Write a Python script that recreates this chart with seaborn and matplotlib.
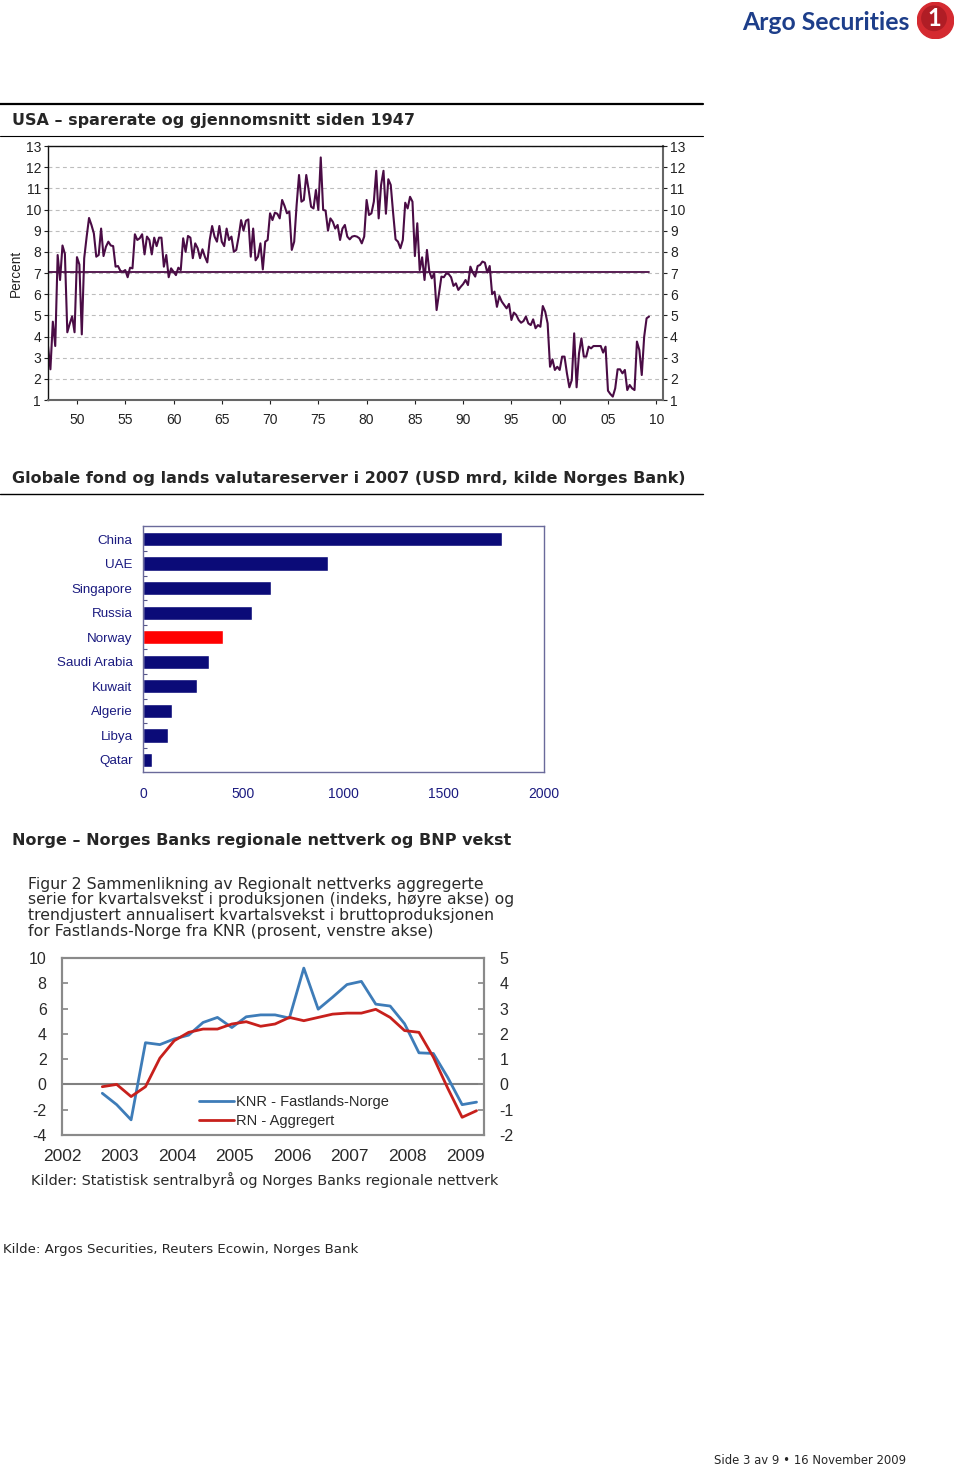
import numpy as np
import pandas as pd
import matplotlib
matplotlib.use("Agg")
import matplotlib.pyplot as plt
import seaborn as sns
from matplotlib.lines import Line2D
from matplotlib.patches import Circle

# ---------------- data ----------------
# USA personal saving rate, quarterly from 1947Q1 (percent)
saving_1947_1962 = [3.55, 2.45, 4.7, 3.55, 7.85, 6.67, 8.3, 7.9, 4.2, 4.6, 4.95, 4.2,
                    7.75, 7.4, 4.1, 7.7, 8.7, 9.6, 9.27, 8.87, 7.77, 7.85, 9.1, 7.8,
                    8.24, 8.48, 8.3, 8.27, 7.3, 7.33, 7.1, 7.06, 7.14, 6.8, 7.25, 7.22,
                    8.83, 8.56, 8.64, 8.83, 7.88, 8.72, 8.56, 7.88, 8.67, 8.27, 8.67, 8.67,
                    7.3, 7.85, 6.8, 7.22, 7.06, 6.9, 7.25, 7.14, 8.64, 8.0, 8.75, 8.67,
                    7.7, 8.4]
saving_1962_1978 = [8.17, 7.7, 8.12, 7.77, 7.5, 8.56, 9.22, 8.72, 8.48, 9.22, 8.48, 8.27,
                    9.1, 8.56, 8.72, 8.0, 8.09, 8.72, 9.5, 9.0, 9.47, 9.53, 7.77, 9.1,
                    7.6, 7.77, 8.4, 7.17, 8.48, 8.56, 9.82, 9.5, 9.85, 9.8, 9.58, 10.45,
                    10.17, 9.82, 9.9, 8.09, 8.48, 10.2, 11.63, 10.37, 10.45, 11.63, 10.92, 10.13,
                    10.05, 10.92, 9.98, 12.46, 9.98, 9.95, 9.0, 9.58, 9.42, 9.1, 9.27, 8.56,
                    9.1, 9.27, 8.72]
saving_1978_1993 = [8.59, 8.72, 8.75, 8.72, 8.64, 8.4, 8.72, 10.45, 9.74, 9.82, 10.37, 11.83,
                    9.58, 11.16, 11.83, 9.8, 11.43, 11.16, 9.82, 8.59, 8.48, 8.17, 8.56, 10.32,
                    10.05, 10.6, 10.37, 7.8, 9.35, 7.14, 7.74, 6.67, 8.09, 7.06, 6.75, 6.98,
                    5.25, 6.04, 6.83, 6.8, 6.98, 6.95, 6.8, 6.39, 6.51, 6.2, 6.35, 6.48,
                    6.67, 6.43, 7.3, 7.02, 6.83, 7.33, 7.38, 7.54, 7.49, 7.02, 7.33, 6.0,
                    6.12, 5.4]
saving_1993_2009 = [5.91, 5.65, 5.49, 5.33, 5.54, 4.78, 5.13, 5.02, 4.78, 4.65, 4.73, 4.94,
                    4.62, 4.54, 4.81, 4.39, 4.54, 4.46, 5.44, 5.17, 4.62, 2.57, 2.92, 2.42,
                    2.57, 2.42, 3.05, 3.05, 2.26, 1.6, 1.94, 4.15, 1.6, 3.2, 3.91, 3.05,
                    3.05, 3.52, 3.44, 3.55, 3.55, 3.55, 3.55, 3.24, 3.52, 1.44, 1.28, 1.16,
                    1.55, 2.45, 2.45, 2.26, 2.42, 1.47, 1.71, 1.55, 1.47, 3.76, 3.36, 2.18,
                    3.99, 4.86, 4.94]
saving_start = 1947.0
saving_mean = 7.05
usa_xticks = [1950, 1955, 1960, 1965, 1970, 1975, 1980, 1985, 1990, 1995, 2000, 2005, 2010]
usa_xlabels = ["50", "55", "60", "65", "70", "75", "80", "85", "90", "95", "00", "05", "10"]
usa_yticks = list(range(1, 14))

# Global funds / FX reserves 2007 (USD bn)
countries = ["China", "UAE", "Singapore", "Russia", "Norway", "Saudi Arabia",
             "Kuwait", "Algerie", "Libya", "Qatar"]
reserves = [1790, 925, 640, 545, 400, 327, 267, 143, 123, 43]
bar_xticks = [0, 500, 1000, 1500, 2000]

# Norges Bank regional network vs GDP growth (quarterly)
nb_start = 2002.7
knr_values = [-0.7, -1.6, -2.8, 3.3, 3.15, 3.6, 3.9, 4.9, 5.3, 4.5, 5.35, 5.5, 5.5, 5.25,
              9.2, 5.95, 6.9, 7.9, 8.15, 6.35, 6.2, 4.8, 2.5, 2.45, 0.55, -1.6, -1.4]
rn_values = [-0.09, 0.0, -0.48, -0.09, 1.04, 1.73, 2.06, 2.19, 2.19, 2.39, 2.48, 2.30, 2.39, 2.65,
             2.52, 2.65, 2.78, 2.82, 2.82, 2.97, 2.65, 2.13, 2.06, 1.08, -0.15, -1.3, -1.04]
nb_years = list(range(2002, 2010))
nb_left_ticks = [-4, -2, 0, 2, 4, 6, 8, 10]
nb_right_ticks = [-2, -1, 0, 1, 2, 3, 4, 5]

# ---------------- setup ----------------
sns.set_theme(style="white")
plt.rcParams["font.family"] = ["Liberation Sans", "DejaVu Sans"]
plt.rcParams["axes.unicode_minus"] = False

W, H = 960, 1467
fig = plt.figure(figsize=(W / 100, H / 100), dpi=100)
fig.patch.set_facecolor("white")


def rect(x0, y0, x1, y1):
    return [x0 / W, 1 - y1 / H, (x1 - x0) / W, (y1 - y0) / H]


def fx(x):
    return x / W


def fy(y):
    return 1 - y / H


def hline(y, x0, x1, lw, color="black"):
    fig.add_artist(Line2D([fx(x0), fx(x1)], [fy(y), fy(y)], transform=fig.transFigure,
                          color=color, lw=lw))


# ---------------- logo ----------------
fig.text(fx(742), fy(22), "Argo Securities", fontsize=17.8, fontweight="bold",
         color="#1D3E8A", family=["Lato", "DejaVu Sans"], va="center", ha="left")
axl = fig.add_axes(rect(917, 2, 954, 39))
axl.set_xlim(0, 1)
axl.set_ylim(0, 1)
axl.add_patch(Circle((0.5, 0.5), 0.49, color="#D42A30"))
axl.add_patch(Circle((0.46, 0.56), 0.33, color="#B01D25"))
axl.text(0.47, 0.55, "1", color="white", fontsize=17, fontweight="bold",
         ha="center", va="center", family=["Lato", "DejaVu Sans"])
axl.axis("off")

# ---------------- chart 1 ----------------
hline(104, 0, 703, 1.6)
hline(136, 0, 703, 0.8)
fig.text(fx(12), fy(120), "USA \u2013 sparerate og gjennomsnitt siden 1947", fontsize=11.55,
         fontweight="bold", family="DejaVu Sans", va="center", ha="left")

saving_rate = saving_1947_1962 + saving_1962_1978 + saving_1978_1993 + saving_1993_2009
df1 = pd.DataFrame({"year": saving_start + 0.25 * np.arange(len(saving_rate)),
                    "rate": saving_rate})
df_mean = pd.DataFrame({"year": [df1["year"].min(), df1["year"].max()],
                        "rate": [saving_mean, saving_mean]})

purple = "#4A0C45"
ax1 = fig.add_axes(rect(48, 146, 663, 400))
sns.lineplot(data=df1, x="year", y="rate", ax=ax1, color=purple, lw=1.5)
sns.lineplot(data=df_mean, x="year", y="rate", ax=ax1, color=purple, lw=1.3)
ax1.set_xlim(1947.0, 2010.7)
ax1.set_ylim(1, 13)
ax1.set_xticks(usa_xticks)
ax1.set_xticklabels(usa_xlabels)
ax1.set_yticks(usa_yticks)
ax1.set_xlabel("")
ax1.set_ylabel("")
ax1.yaxis.grid(True, linestyle=(0, (3.5, 3)), color="#BDBDBD", lw=0.8)
ax1.xaxis.grid(False)
ax1.tick_params(axis="both", labelsize=10, colors="#222222", length=3, width=0.8,
                direction="out")
ax1.tick_params(axis="y", left=True, right=True, labelleft=True, labelright=True, pad=2)
ax1.tick_params(axis="x", bottom=True, pad=6)
for side in ["left", "top"]:
    ax1.spines[side].set_color("#111111")
    ax1.spines[side].set_linewidth(1.0)
for side in ["right", "bottom"]:
    ax1.spines[side].set_color("#666666")
    ax1.spines[side].set_linewidth(1.5)
fig.text(fx(16), fy(273), "Percent", rotation=90, fontsize=9.8, va="center", ha="center",
         color="#222222")

# ---------------- chart 2 ----------------
fig.text(fx(12), fy(479), "Globale fond og lands valutareserver i 2007 (USD mrd, kilde Norges Bank)",
         fontsize=11.55, fontweight="bold", family="DejaVu Sans", va="center", ha="left")
hline(494, 0, 703, 1.0)

navy = "#0B0B78"
label_navy = "#1B1B80"
df2 = pd.DataFrame({"country": countries, "reserve": reserves})
bar_palette = {c: ("#FF0000" if c == "Norway" else navy) for c in countries}
ax2 = fig.add_axes(rect(143, 526, 544, 772))
sns.barplot(data=df2, x="reserve", y="country", hue="country", palette=bar_palette,
            legend=False, ax=ax2, width=0.58, saturation=1, orient="h")
ax2.set_xlim(0, 2000)
ax2.set_ylim(9.49, -0.53)
ax2.set_xticks(bar_xticks)
ax2.set_xlabel("")
ax2.set_ylabel("")
ax2.tick_params(axis="x", length=0, pad=10.5, labelsize=10, labelcolor=label_navy)
ax2.tick_params(axis="y", length=0, pad=7.5, labelsize=9.6, labelcolor=label_navy)
ax2.set_yticks(np.arange(0.5, len(countries) - 1, 1.0), minor=True)
ax2.tick_params(axis="y", which="minor", left=True, direction="in", length=3,
                width=0.8, color="#555588")
for s in ax2.spines.values():
    s.set_color("#6A6A9A")
    s.set_linewidth(1.0)

# ---------------- chart 3 ----------------
fig.text(fx(12), fy(840), "Norge \u2013 Norges Banks regionale nettverk og BNP vekst",
         fontsize=11.55, fontweight="bold", family="DejaVu Sans", va="center", ha="left")

gtxt = "#2A2A2A"
title_lines = ["Figur 2 Sammenlikning av Regionalt nettverks aggregerte",
               "serie for kvartalsvekst i produksjonen (indeks, h\u00f8yre akse) og",
               "trendjustert annualisert kvartalsvekst i bruttoproduksjonen",
               "for Fastlands-Norge fra KNR (prosent, venstre akse)"]
for i, line in enumerate(title_lines):
    fig.text(fx(28), fy(884 + 15.7 * i), line, fontsize=11.3, color=gtxt, va="center",
             ha="left", family="DejaVu Sans")

nb_quarters = nb_start + 0.25 * np.arange(len(knr_values))
df3 = pd.DataFrame({"year": nb_quarters, "knr": knr_values, "rn": rn_values})

blue = "#3E7CB8"
red = "#C7201C"
ax3 = fig.add_axes(rect(62, 958, 484, 1135))
ax3.axhline(0, color="#808080", lw=1.5, zorder=1)
sns.lineplot(data=df3, x="year", y="knr", ax=ax3, color=blue, lw=2.0, zorder=3)
ax3r = ax3.twinx()
sns.lineplot(data=df3, x="year", y="rn", ax=ax3r, color=red, lw=2.0, zorder=3)
ax3.set_xlim(2002.0, 2009.33)
ax3.set_ylim(-4, 10)
ax3r.set_ylim(-2, 5)
ax3.set_xticks(nb_years)
ax3.set_yticks(nb_left_ticks)
ax3r.set_yticks(nb_right_ticks)
for a in (ax3, ax3r):
    a.set_xlabel("")
    a.set_ylabel("")
    a.grid(False)
    for s in a.spines.values():
        s.set_color("#8A8A8A")
        s.set_linewidth(1.5)
ax3.tick_params(axis="x", direction="in", length=4, color="#8A8A8A", pad=10,
                labelsize=12.5, labelcolor=gtxt)
ax3.tick_params(axis="y", direction="in", length=4, color="#8A8A8A", pad=11,
                labelsize=11.5, labelcolor=gtxt)
ax3r.tick_params(axis="y", direction="in", length=4, color="#8A8A8A", pad=11,
                 labelsize=11.5, labelcolor=gtxt)
handles = [Line2D([], [], color=blue, lw=2.0), Line2D([], [], color=red, lw=2.0)]
ax3.legend(handles, ["KNR - Fastlands-Norge", "RN - Aggregert"], loc="upper left",
           bbox_to_anchor=(0.325, 0.225), frameon=False, fontsize=10.5, handlelength=2.4,
           handletextpad=0.1, labelspacing=0.35, borderpad=0, borderaxespad=0,
           labelcolor=gtxt)
fig.text(fx(31), fy(1180), "Kilder: Statistisk sentralbyr\u00e5 og Norges Banks regionale nettverk",
         fontsize=10.35, color=gtxt, va="center", ha="left", family="DejaVu Sans")

# ---------------- footer ----------------
fig.text(fx(3), fy(1249), "Kilde: Argos Securities, Reuters Ecowin, Norges Bank",
         fontsize=9.6, family="DejaVu Sans", va="center", ha="left")
fig.text(fx(714), fy(1461), "Side 3 av 9 \u2022 16 November 2009", fontsize=8.4,
         family="DejaVu Sans", va="center", ha="left")

fig.savefig("out.png", dpi=100, facecolor="white")
